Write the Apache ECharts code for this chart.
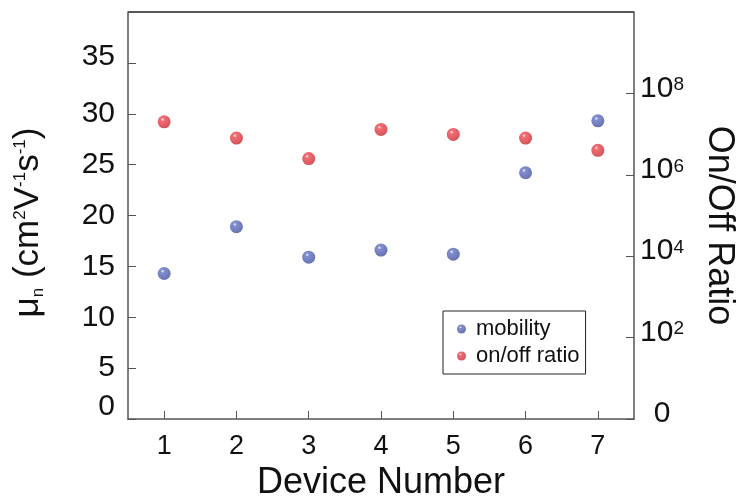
<!DOCTYPE html>
<html><head><meta charset="utf-8">
<script src="https://cdn.jsdelivr.net/npm/echarts@6/dist/echarts.min.js"></script>
<style>html,body{margin:0;padding:0;background:#fff}#c{width:738px;height:498px}</style>
</head><body><div id="c"></div>
<script>
var devices = ['1', '2', '3', '4', '5', '6', '7'];
var mobility = [14.3, 18.9, 15.9, 16.6, 16.2, 24.2, 29.3];
var onOffRatio = [2.0e7, 8.0e6, 2.5e6, 1.3e7, 9.8e6, 8.0e6, 4.0e6];
var leftTicks = [0, 5, 10, 15, 20, 25, 30, 35];
var rightTickExps = [0, 2, 4, 6, 8];

function ball(c, d) {
  return new echarts.graphic.RadialGradient(0.38, 0.32, 0.75, [
    {offset: 0, color: '#ffffff'},
    {offset: 0.18, color: c},
    {offset: 1, color: d}
  ]);
}
var FONT = 'Liberation Sans, Arial, sans-serif';
var chart = echarts.init(document.getElementById('c'));
chart.setOption({
  animation: false,
  backgroundColor: '#fff',
  grid: {left: 128, right: 104, top: 12, bottom: 79, containLabel: false, outerBoundsMode: 'none'},
  legend: {
    orient: 'vertical', left: 443, top: 311, width: 141,
    padding: [7, 6, 7, 14], itemGap: 5,
    borderColor: '#222', borderWidth: 1, borderRadius: 0,
    icon: 'circle', itemWidth: 9, itemHeight: 9,
    textStyle: {fontFamily: FONT, fontSize: 22, color: '#111', padding: [0, 0, 0, 5]},
    data: ['mobility', 'on/off ratio']
  },
  xAxis: {
    type: 'category', data: devices, boundaryGap: true,
    name: 'Device Number', nameLocation: 'middle', nameGap: 44,
    nameTextStyle: {fontFamily: FONT, fontSize: 36, color: '#111'},
    axisLine: {show: true, onZero: false, lineStyle: {color: '#555', width: 1.5}},
    axisTick: {show: true, inside: true, length: 8, alignWithLabel: true, lineStyle: {color: '#555'}},
    axisLabel: {fontFamily: FONT, fontSize: 27, color: '#111', margin: 14},
    splitLine: {show: false}
  },
  yAxis: [{
    type: 'value', min: 0, max: 40, interval: 5, position: 'left',
    name: '{t|μ}{sub|n}{t| (cm}{sup|2}{t|V}{sup|-1}{t|s}{sup|-1}{t|)}',
    nameLocation: 'middle', nameGap: 79, nameRotate: 90,
    nameTextStyle: {
      fontFamily: FONT, color: '#111', padding: [0, 0, 0, -14],
      rich: {
        t: {fontFamily: FONT, fontSize: 35, color: '#111', lineHeight: 42, verticalAlign: 'middle'},
        sup: {fontFamily: FONT, fontSize: 17, color: '#111', lineHeight: 42, verticalAlign: 'top', padding: [5, 0, 0, 0]},
        sub: {fontFamily: FONT, fontSize: 17, color: '#111', lineHeight: 42, verticalAlign: 'bottom', padding: [0, 0, 2, 0]}
      }
    },
    axisLine: {show: true, lineStyle: {color: '#555', width: 1.5}},
    axisTick: {show: true, inside: true, length: 8, lineStyle: {color: '#555'}},
    axisLabel: {fontFamily: FONT, fontSize: 30, color: '#111', margin: 13,
      formatter: function (v) {
        if (leftTicks.indexOf(v) < 0) return '';
        if (v === 0) return '{z|0}';
        if (v === 35) return '{h|35}';
        return String(v);
      },
      rich: {
        z: {fontFamily: FONT, fontSize: 30, color: '#111', padding: [0, 0, 24, 0]},
        h: {fontFamily: FONT, fontSize: 30, color: '#111', padding: [0, 0, 12, 0]}
      }
    },
    splitLine: {show: false}
  }, {
    type: 'log', logBase: 10, min: 1, max: 1e10, interval: 2, position: 'right',
    name: 'On/Off Ratio', nameLocation: 'middle', nameGap: 67, nameRotate: -90,
    nameTextStyle: {fontFamily: FONT, fontSize: 36, color: '#111', padding: [0, 0, 0, 20]},
    axisLine: {show: true, lineStyle: {color: '#555', width: 1.5}},
    axisTick: {show: true, inside: true, length: 8, lineStyle: {color: '#555'}},
    axisLabel: {
      margin: 28, align: 'center', fontFamily: FONT, color: '#111',
      formatter: function (v) {
        var e = Math.round(Math.log(v) / Math.LN10);
        if (rightTickExps.indexOf(e) < 0) return '';
        if (e === 0) return '{b|0}';
        return '{b|10}{s|' + e + '}';
      },
      rich: {
        b: {fontFamily: FONT, fontSize: 30, color: '#111', lineHeight: 36, padding: [0, 0, 10, 0]},
        s: {fontFamily: FONT, fontSize: 19, color: '#111', lineHeight: 36, verticalAlign: 'top', padding: [0, 0, 10, 0]}
      }
    },
    splitLine: {show: false}
  }],
  series: [{
    name: 'mobility', type: 'scatter', yAxisIndex: 0, symbolSize: 13,
    itemStyle: {color: ball('#6272c2', '#3f4d99')},
    data: devices.map(function (d, i) { return [d, mobility[i]]; })
  }, {
    name: 'on/off ratio', type: 'scatter', yAxisIndex: 1, symbolSize: 13,
    itemStyle: {color: ball('#f04a52', '#c4242c')},
    data: devices.map(function (d, i) { return [d, onOffRatio[i]]; })
  }],
  graphic: [{
    type: 'line', shape: {x1: 128, y1: 12, x2: 634, y2: 12},
    style: {stroke: '#222', lineWidth: 1.5}, silent: true
  }]
});
</script></body></html>
